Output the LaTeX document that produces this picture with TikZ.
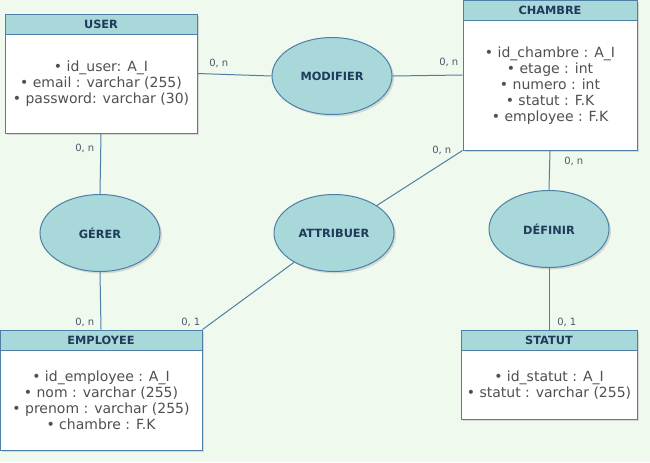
\documentclass[tikz,border=0pt]{standalone}
\usepackage{fontspec}
\setmainfont{DejaVu Sans}
\usetikzlibrary{shapes.geometric}
\usetikzlibrary{shadows}
\usetikzlibrary{calc}

\definecolor{bgGreen}{HTML}{F0F9EE}
\definecolor{headFill}{HTML}{A8D8DA}
\definecolor{edgeBlue}{HTML}{4E7FA6}
\definecolor{headText}{HTML}{1F3A5A}
\definecolor{attrText}{HTML}{505050}
\definecolor{cardText}{HTML}{4A5868}

\tikzset{
  entity/.style={draw=edgeBlue, line width=0.75pt, fill=white, inner sep=0pt,
    drop shadow={opacity=0.25, shadow xshift=1.5pt, shadow yshift=-1.5pt}},
  entityhead/.style={draw=edgeBlue, line width=0.75pt, fill=headFill, inner sep=0pt,
    minimum height=15pt, anchor=north, text=headText, font=\bfseries\fontsize{8.5}{10}\selectfont},
  attrs/.style={align=center, inner sep=0pt, text=attrText, font=\fontsize{10.5}{12}\selectfont},
  relation/.style={ellipse, draw=edgeBlue, line width=0.75pt, fill=headFill,
    minimum width=90pt, minimum height=57.75pt, inner sep=0pt, text=headText,
    font=\bfseries\fontsize{8.5}{10}\selectfont,
    drop shadow={opacity=0.25, shadow xshift=1.5pt, shadow yshift=-1.5pt}},
  link/.style={draw=edgeBlue, line width=0.75pt},
  card/.style={inner sep=0.75pt, text=cardText, font=\fontsize{7.5}{9}\selectfont}
}

\begin{document}
\begin{tikzpicture}[x=0.75pt,y=0.75pt,yscale=-1,xscale=1]
%set diagram to the size of the reference
\fill [bgGreen] (0,0) rectangle (650,462);
\useasboundingbox (0,0) rectangle (650,462);

%Shape: Entity USER
\draw (101,73.5) node (user) [entity, minimum width=144pt, minimum height=89.25pt] {};
\draw (user.north) node (userhead) [entityhead, minimum width=144pt] {USER};
%Shape: Entity CHAMBRE
\draw (550,75) node (chambre) [entity, minimum width=130.5pt, minimum height=112.5pt] {};
\draw (chambre.north) node (chambrehead) [entityhead, minimum width=130.5pt] {CHAMBRE};
%Shape: Entity EMPLOYEE
\draw (101,390) node (employee) [entity, minimum width=151.5pt, minimum height=90pt] {};
\draw (employee.north) node (employeehead) [entityhead, minimum width=151.5pt] {EMPLOYEE};
%Shape: Entity STATUT
\draw (549,374.5) node (statut) [entity, minimum width=132pt, minimum height=66.75pt] {};
\draw (statut.north) node (statuthead) [entityhead, minimum width=132pt] {STATUT};

% Text Node
\draw ($(userhead.south)!0.5!(user.south)$) node (userattrs) [attrs]
  {• id\_user: A\_I\\• email : varchar (255)\\• password: varchar (30)};
% Text Node
\draw ($(chambrehead.south)!0.5!(chambre.south)$) node (chambreattrs) [attrs]
  {• id\_chambre : A\_I\\• etage : int\\• numero : int\\• statut : F.K\\• employee : F.K};
% Text Node
\draw ($(employeehead.south)!0.5!(employee.south)$) node (employeeattrs) [attrs]
  {• id\_employee : A\_I\\• nom : varchar (255)\\• prenom : varchar (255)\\• chambre : F.K};
% Text Node
\draw ($(statuthead.south)!0.5!(statut.south)$) node (statutattrs) [attrs]
  {• id\_statut : A\_I\\• statut : varchar (255)};

%Shape: Ellipse [relations]
\draw (332,76) node (modifier) [relation] {MODIFIER};
\draw (100,233) node (gerer) [relation] {GÉRER};
\draw (334,233) node (attribuer) [relation] {ATTRIBUER};
\draw (549,229) node (definir) [relation] {DÉFINIR};

%Straight Lines [links]
\draw [link] (user.east) -- (modifier.west);
\draw [link] (modifier.east) -- (chambre.west);
\draw [link] (user.south) -- (gerer.north);
\draw [link] (gerer.south) -- (employeehead.north);
\draw [link] (attribuer) -- (employee.north east);
\draw [link] (attribuer) -- (chambre.south west);
\draw [link] (chambre.south) -- (definir.north);
\draw [link] (definir.south) -- (statuthead.north);

% Text Node [cardinalities]
\draw (208,58) node (c1) [card, anchor=north west] {0, n};
\draw (438,57) node (c2) [card, anchor=north west] {0, n};
\draw (74,143) node (c3) [card, anchor=north west] {0, n};
\draw (431,145) node (c4) [card, anchor=north west] {0, n};
\draw (563,156) node (c5) [card, anchor=north west] {0, n};
\draw (74,317) node (c6) [card, anchor=north west] {0, n};
\draw (180,317) node (c7) [card, anchor=north west] {0, 1};
\draw (556,317) node (c8) [card, anchor=north west] {0, 1};

\end{tikzpicture}
\end{document}
